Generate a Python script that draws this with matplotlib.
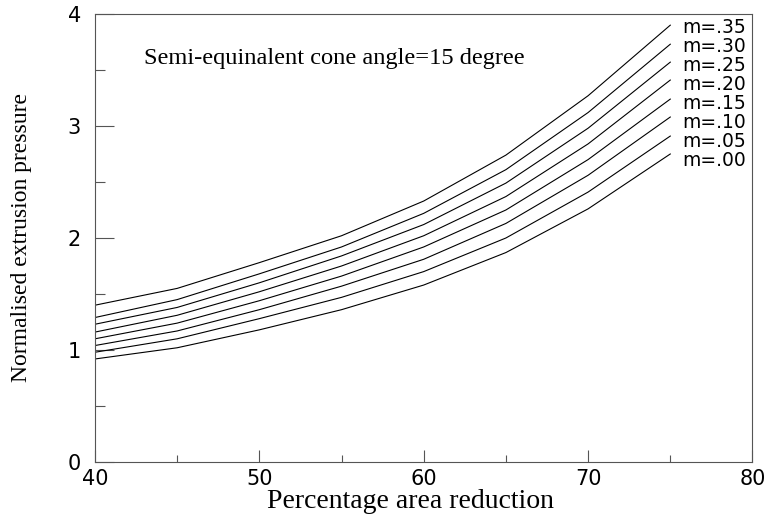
import matplotlib.pyplot as plt
from matplotlib.ticker import MultipleLocator

# reducao de area (%) e pressao normalizada para cada fator de atrito m
reducao = [40, 45, 50, 55, 60, 65, 70, 75]
m_labels = ["m=.35", "m=.30", "m=.25", "m=.20", "m=.15", "m=.10", "m=.05", "m=.00"]
p_035 = [1.40, 1.55, 1.78, 2.02, 2.33, 2.74, 3.27, 3.90]
p_030 = [1.29, 1.45, 1.68, 1.92, 2.22, 2.61, 3.12, 3.73]
p_025 = [1.23, 1.38, 1.60, 1.84, 2.12, 2.49, 2.98, 3.57]
p_020 = [1.16, 1.31, 1.52, 1.75, 2.02, 2.37, 2.84, 3.41]
p_015 = [1.10, 1.24, 1.44, 1.66, 1.92, 2.25, 2.70, 3.24]
p_010 = [1.04, 1.17, 1.36, 1.57, 1.81, 2.13, 2.56, 3.08]
p_005 = [0.98, 1.10, 1.28, 1.47, 1.70, 2.00, 2.41, 2.91]
p_000 = [0.92, 1.02, 1.18, 1.36, 1.58, 1.87, 2.26, 2.75]
curvas = [p_035, p_030, p_025, p_020, p_015, p_010, p_005, p_000]

fig = plt.figure(figsize=(7.69, 5.21), dpi=100)
ax = fig.add_axes([0.1235, 0.1132, 0.855, 0.86])

for y in curvas:
    ax.plot(reducao, y, c="black", linewidth=0.8)

# rotulos de m ao lado das curvas
for i, txt in enumerate(m_labels):
    ax.text(75.7, 3.88 - i * 0.17, txt, fontsize=13.5, family="DejaVu Sans",
            va="center", ha="left")

ax.text(43, 3.6, "Semi-equinalent cone angle=15 degree", fontsize=17.6,
        family="Liberation Serif", va="center")

ax.set_xlim(40, 80)
ax.set_ylim(0, 4)
ax.xaxis.set_major_locator(MultipleLocator(10))
ax.xaxis.set_minor_locator(MultipleLocator(5))
ax.yaxis.set_major_locator(MultipleLocator(1))
ax.yaxis.set_minor_locator(MultipleLocator(0.5))
ax.tick_params(axis="x", which="major", direction="in", length=9, width=0.8,
               labelsize=15, pad=5, color="#555555")
ax.tick_params(axis="x", which="minor", direction="in", length=5, width=0.8,
               color="#555555")
ax.tick_params(axis="y", which="major", direction="in", length=14, width=0.8,
               labelsize=15, pad=10, color="#555555")
ax.tick_params(axis="y", which="minor", direction="in", length=7, width=0.8,
               color="#555555")
for s in ax.spines.values():
    s.set_color("#555555")
    s.set_linewidth(0.8)

ax.set_xlabel("Percentage area reduction", fontsize=20,
              family="Liberation Serif", labelpad=0, x=0.48)
ax.set_ylabel("Normalised extrusion pressure", fontsize=17,
              family="Liberation Serif", labelpad=26)

plt.savefig("out.png", dpi=100)
